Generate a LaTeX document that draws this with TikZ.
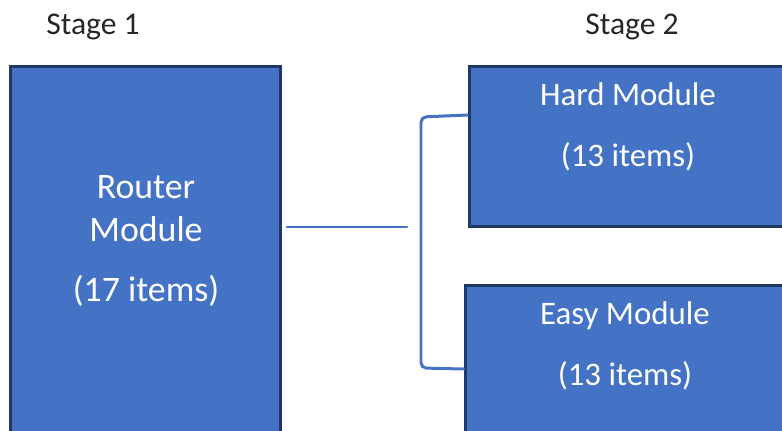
\documentclass[tikz,border=0pt]{standalone}
\usepackage{fontspec}
\setmainfont{Carlito}
\definecolor{modfill}{HTML}{4472C4}
\definecolor{moddraw}{HTML}{1F3864}
\definecolor{linkcol}{HTML}{4472C4}
\tikzset{
  module/.style={draw=moddraw, fill=modfill, line width=1.7pt, inner sep=0pt},
  modtext/.style={text=white, align=center, inner sep=0pt},
  stagetext/.style={text=black!85, inner sep=0pt, font=\fontsize{18}{21}\selectfont},
  link/.style={draw=linkcol, line width=1.7pt, line cap=round}
}
\begin{document}
\begin{tikzpicture}[x=0.02cm, y=-0.02cm]
\useasboundingbox (0,0) rectangle (782,430);
\clip (0,0) rectangle (782,430);
% stage headings
\node[stagetext] (stageone) at (93,27) {Stage 1};
\node[stagetext] (stagetwo) at (632,27) {Stage 2};
% modules
\node[module, minimum width=5.42cm, minimum height=8.28cm] (router) at (145.5,273) {};
\node[module, minimum width=6.36cm, minimum height=3.22cm] (hard) at (628,146.5) {};
\node[module, minimum width=6.40cm, minimum height=3.90cm] (easy) at (625,382.5) {};
\node[modtext, font=\fontsize{20.4}{24.4}\selectfont] (routertext) at (146,241)
  {Router\\Module\\[10pt](17 items)};
\node[modtext, font=\fontsize{18.7}{22.4}\selectfont] (hardtext) at (628,127)
  {Hard Module\\[12pt](13 items)};
\node[modtext, font=\fontsize{18.7}{22.4}\selectfont] (easytext) at (625,346)
  {Easy Module\\[12pt](13 items)};
% connectors
\coordinate (routerout) at (287,227);
\coordinate (splitin) at (407,227);
\coordinate (hardin) at (hard.west |- 0,115);
\coordinate (easyin) at (easy.west |- 0,369);
\draw[link] (routerout) -- (splitin);
\draw[link, rounded corners=3pt] (hardin) -- (421,117) -- (421,368) -- (easyin);
\end{tikzpicture}
\end{document}
